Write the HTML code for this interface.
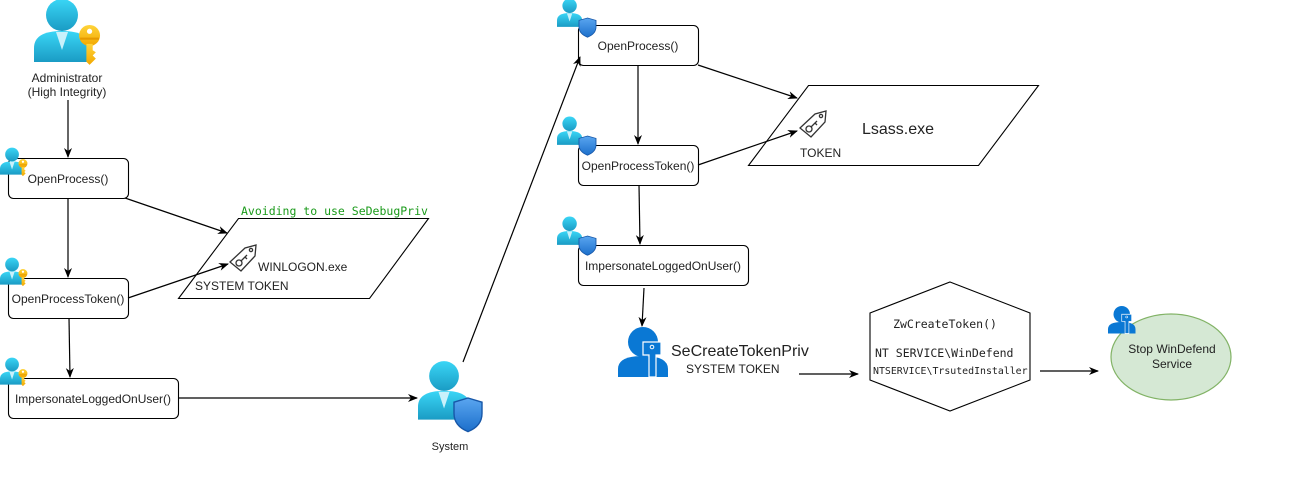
<!DOCTYPE html>
<html><head><meta charset="utf-8"><style>
html,body{margin:0;padding:0;background:#fff;}
svg{display:block;}
text{font-family:"Liberation Sans",Arial,sans-serif;fill:#222;}
.m{font-family:"DejaVu Sans Mono","Liberation Mono",monospace;}
</style></head><body>
<svg width="1299" height="502" viewBox="0 0 1299 502" xmlns="http://www.w3.org/2000/svg">
<defs>
<linearGradient id="pg" x1="0" y1="0" x2="0" y2="1"><stop offset="0" stop-color="#3ad6f6"/><stop offset="1" stop-color="#1a9bc4"/></linearGradient>
<linearGradient id="sg" x1="0" y1="0" x2="0" y2="1"><stop offset="0" stop-color="#5aa6f0"/><stop offset="1" stop-color="#1c6fcb"/></linearGradient>
<linearGradient id="kg" x1="0" y1="0" x2="0" y2="1"><stop offset="0" stop-color="#ffd43a"/><stop offset="1" stop-color="#f2a800"/></linearGradient>
<marker id="a" markerWidth="10" markerHeight="10" refX="9" refY="5" orient="auto" markerUnits="userSpaceOnUse"><path d="M0,1 L10,5 L0,9 L3,5 Z" fill="#000"/></marker>
<g id="person">
<circle cx="28" cy="15" r="16" fill="url(#pg)"/>
<path d="M0,62 L0,48 Q0,31 28,31 Q56,31 56,48 L56,62 Z" fill="url(#pg)"/>
<path d="M22,32 L28,50 L34,32 Z" fill="#c9f1fb"/>
</g>
<g id="key">
<circle cx="11" cy="10" r="10" fill="url(#kg)"/>
<circle cx="11" cy="6" r="2.5" fill="#fff"/>
<rect x="2" y="12" width="18" height="2" fill="#e69a00"/>
<path d="M8,18 L14,18 L14,24 L17,26 L14,29 L17,32 L14,35 L11,38 L8,35 Z" fill="url(#kg)"/>
</g>
<g id="shield"><path d="M10,0 L20,3 L20,11 Q20,20 10,24 Q0,20 0,11 L0,3 Z" fill="url(#sg)" stroke="#1757a8" stroke-width="1"/></g>
<g id="tag" fill="none" stroke="#333" stroke-width="1.3">
<path d="M0,17 L15,3 L26,0 L25,11 L11,26 Z"/>
<circle cx="21" cy="5" r="1.6"/>
<circle cx="9" cy="18" r="3"/>
<path d="M11,16 L17,10 M15,12 L17,14"/>
</g>
<g id="bperson">
<circle cx="25" cy="15" r="15" fill="#0a78d4"/>
<path d="M0,50 L0,42 Q0,29 25,29 Q50,29 50,42 L50,50 Z" fill="#0a78d4"/>
<path d="M25,15 L43,15 L43,28 L38,28 L38,50 L31,50 L31,28 L25,28 Z" fill="#0a78d4" stroke="#fff" stroke-width="1.2"/>
<circle cx="34" cy="20" r="1.8" fill="none" stroke="#fff" stroke-width="1"/>
</g>
</defs>

<!-- Admin -->
<use href="#person" transform="translate(34,0)"/>
<use href="#key" transform="translate(78,25) scale(1.05)"/>
<text x="67" y="82" font-size="12" text-anchor="middle">Administrator</text>
<text x="67" y="96" font-size="12" text-anchor="middle">(High Integrity)</text>

<!-- boxes -->
<g fill="#fff" stroke="#000" stroke-width="1.1">
<rect x="8.5" y="158.5" width="120" height="40" rx="5"/>
<rect x="8.5" y="278.5" width="120" height="40" rx="5"/>
<rect x="8.5" y="378.5" width="170" height="40" rx="5"/>
<rect x="578.5" y="25.5" width="120" height="40" rx="5"/>
<rect x="578.5" y="145.5" width="120" height="40" rx="5"/>
<rect x="578.5" y="245.5" width="170" height="40" rx="5"/>
</g>
<text x="68" y="183" font-size="12" text-anchor="middle">OpenProcess()</text>
<text x="68" y="303" font-size="12" text-anchor="middle">OpenProcessToken()</text>
<text x="93" y="403" font-size="12" text-anchor="middle">ImpersonateLoggedOnUser()</text>
<text x="638" y="50" font-size="12" text-anchor="middle">OpenProcess()</text>
<text x="638" y="170" font-size="12" text-anchor="middle">OpenProcessToken()</text>
<text x="663" y="270" font-size="12" text-anchor="middle">ImpersonateLoggedOnUser()</text>

<!-- small left icons -->
<use href="#person" transform="translate(0,148) scale(0.43)"/><use href="#key" transform="translate(18,159) scale(0.45)"/>
<use href="#person" transform="translate(0,258) scale(0.43)"/><use href="#key" transform="translate(18,269) scale(0.45)"/>
<use href="#person" transform="translate(0,358) scale(0.43)"/><use href="#key" transform="translate(18,369) scale(0.45)"/>

<!-- small right icons -->
<use href="#person" transform="translate(557,-1) scale(0.45)"/><use href="#shield" transform="translate(579,18) scale(0.85,0.8)"/>
<use href="#person" transform="translate(557,117) scale(0.45)"/><use href="#shield" transform="translate(579,136) scale(0.85,0.8)"/>
<use href="#person" transform="translate(557,217) scale(0.45)"/><use href="#shield" transform="translate(579,236) scale(0.85,0.8)"/>

<!-- WINLOGON -->
<polygon points="238.5,218.5 428.5,218.5 369.5,298.5 178.5,298.5" fill="#fff" stroke="#000" stroke-width="1.1"/>
<text x="241" y="215" class="m" font-size="11.5" style="fill:#1a9a1a">Avoiding to use SeDebugPriv</text>
<use href="#tag" transform="translate(230,245)"/>
<text x="258" y="271" font-size="12">WINLOGON.exe</text>
<text x="195" y="290" font-size="12">SYSTEM TOKEN</text>

<!-- System -->
<use href="#person" transform="translate(418,362) scale(0.93)"/>
<use href="#shield" transform="translate(454,398) scale(1.4)"/>
<text x="450" y="450" font-size="11" text-anchor="middle">System</text>

<!-- Lsass -->
<polygon points="808.5,85.5 1038.5,85.5 978.5,165.5 748.5,165.5" fill="#fff" stroke="#000" stroke-width="1.1"/>
<use href="#tag" transform="translate(800,111)"/>
<text x="862" y="134" font-size="16">Lsass.exe</text>
<text x="800" y="157" font-size="12">TOKEN</text>

<!-- SeCreate -->
<use href="#bperson" transform="translate(618,327)"/>
<text x="671" y="356" font-size="16">SeCreateTokenPriv</text>
<text x="686" y="373" font-size="12">SYSTEM TOKEN</text>

<!-- Hexagon -->
<polygon points="950,282 1030,313 1030,380 950,411 870,380 870,313" fill="#fff" stroke="#000" stroke-width="1.1"/>
<text x="945" y="328" class="m" font-size="11.5" text-anchor="middle">ZwCreateToken()</text>
<text x="875" y="357" class="m" font-size="11.5">NT SERVICE\WinDefend</text>
<text x="873" y="374" class="m" font-size="9.9">NTSERVICE\TrsutedInstaller</text>

<!-- Ellipse -->
<ellipse cx="1171" cy="357" rx="60" ry="43" fill="#d5e8d4" stroke="#82b366" stroke-width="1.2"/>
<text x="1172" y="353" font-size="12" text-anchor="middle">Stop WinDefend</text>
<text x="1172" y="368" font-size="12" text-anchor="middle">Service</text>
<use href="#bperson" transform="translate(1108,306) scale(0.55)"/>

<!-- connectors -->
<g stroke="#000" stroke-width="1.2" fill="none">
<line x1="68" y1="100" x2="68" y2="157" marker-end="url(#a)"/>
<line x1="68" y1="198" x2="68" y2="277" marker-end="url(#a)"/>
<line x1="69" y1="318" x2="70" y2="377" marker-end="url(#a)"/>
<line x1="125" y1="198" x2="227" y2="233" marker-end="url(#a)"/>
<line x1="128" y1="298" x2="228" y2="264" marker-end="url(#a)"/>
<line x1="178" y1="398" x2="417" y2="398" marker-end="url(#a)"/>
<line x1="463" y1="362" x2="580" y2="57" marker-end="url(#a)"/>
<line x1="638" y1="65" x2="638" y2="144" marker-end="url(#a)"/>
<line x1="639" y1="185" x2="640" y2="244" marker-end="url(#a)"/>
<line x1="644" y1="288" x2="642" y2="326" marker-end="url(#a)"/>
<line x1="698" y1="65" x2="797" y2="98" marker-end="url(#a)"/>
<line x1="698" y1="165" x2="797" y2="131" marker-end="url(#a)"/>
<line x1="799" y1="374" x2="858" y2="374" marker-end="url(#a)"/>
<line x1="1040" y1="371" x2="1098" y2="371" marker-end="url(#a)"/>
</g>
</svg>
</body></html>
